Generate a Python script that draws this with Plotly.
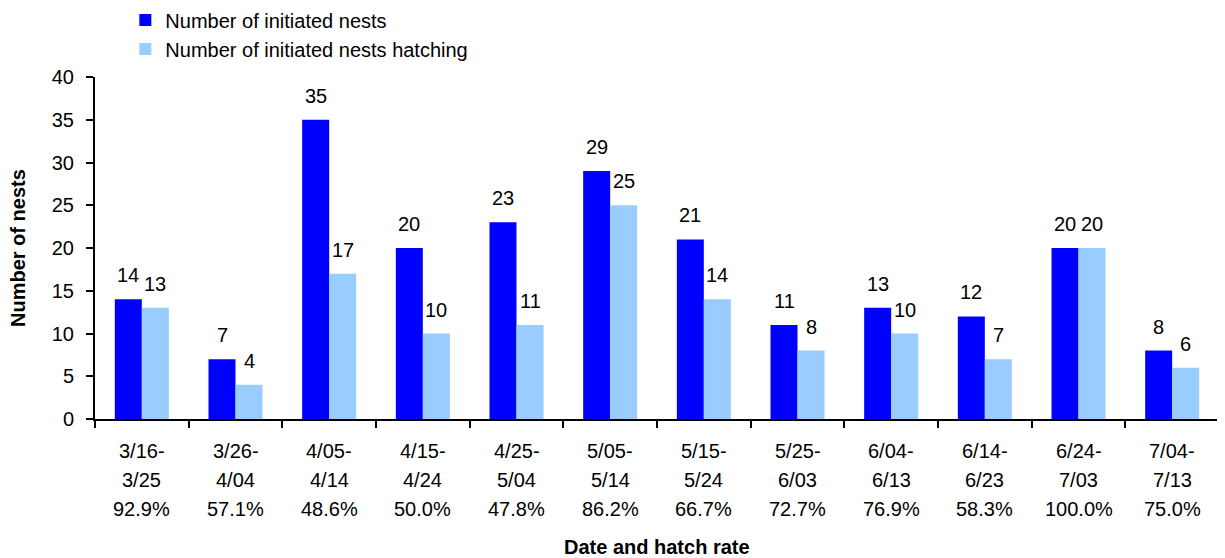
import plotly.graph_objects as go

periods = ["3/16-", "3/26-", "4/05-", "4/15-", "4/25-", "5/05-", "5/15-", "5/25-", "6/04-", "6/14-", "6/24-", "7/04-"]
period_ends = ["3/25", "4/04", "4/14", "4/24", "5/04", "5/14", "5/24", "6/03", "6/13", "6/23", "7/03", "7/13"]
hatch_rates = ["92.9%", "57.1%", "48.6%", "50.0%", "47.8%", "86.2%", "66.7%", "72.7%", "76.9%", "58.3%", "100.0%", "75.0%"]
initiated = [14, 7, 35, 20, 23, 29, 21, 11, 13, 12, 20, 8]
hatching = [13, 4, 17, 10, 11, 25, 14, 8, 10, 7, 20, 6]
y_ticks = [0, 5, 10, 15, 20, 25, 30, 35, 40]

cats = [f"{a}{b}" for a, b in zip(periods, period_ends)]
FONT = "Liberation Sans, Arial, sans-serif"
FS = 20
BLUE = "#0000FF"
LIGHT = "#99CCFF"

fig = go.Figure()
fig.add_trace(go.Bar(x=cats, y=initiated, name="Number of initiated nests",
                     legendgroup="a", marker=dict(color=BLUE, line=dict(width=0))))
fig.add_trace(go.Bar(x=cats, y=hatching, name="Number of initiated nests hatching",
                     legendgroup="b", marker=dict(color=LIGHT, line=dict(width=0))))

annotations = []
# value labels above bars
for vals, dx in ((initiated, -13.5), (hatching, 13.5)):
    for c, v in zip(cats, vals):
        annotations.append(dict(x=c, xref="x", y=v, yref="y", xshift=dx, yshift=24,
                                text=str(v), showarrow=False,
                                font=dict(size=FS, color="black", family=FONT),
                                xanchor="center", yanchor="middle"))
# category labels (three lines)
for c, a, b, r in zip(cats, periods, period_ends, hatch_rates):
    for i, t in enumerate([a, b, r]):
        annotations.append(dict(x=c, xref="x", y=0, yref="paper", yshift=-32 - 29 * i,
                                text=t, showarrow=False,
                                font=dict(size=FS, color="black", family=FONT),
                                xanchor="center", yanchor="middle"))
# axis titles
annotations.append(dict(x=0.5, xref="paper", y=0, yref="paper", yshift=-128,
                        text="<b>Date and hatch rate</b>", showarrow=False,
                        font=dict(size=FS, color="black", family=FONT),
                        xanchor="center", yanchor="middle"))
annotations.append(dict(x=0, xref="paper", y=0.5, yref="paper", xshift=-77,
                        text="<b>Number of nests</b>", showarrow=False, textangle=-90,
                        font=dict(size=FS, color="black", family=FONT),
                        xanchor="center", yanchor="middle"))

# the page body adds an 8px margin, so the figure is sized/offset to compensate
fig.update_layout(
    width=1217, height=550,
    margin=dict(l=87, r=6, t=69, b=139, autoexpand=False),
    paper_bgcolor="white", plot_bgcolor="white",
    barmode="group", bargap=0.4235, bargroupgap=0,
    font=dict(family=FONT, size=FS, color="black"),
    showlegend=True,
    legend=dict(x=0.027, y=1.224, xref="paper", yref="paper", xanchor="left", yanchor="top",
                font=dict(size=FS, family=FONT), itemwidth=30, tracegroupgap=10,
                traceorder="normal", bgcolor="rgba(0,0,0,0)"),
    annotations=annotations,
)
fig.update_xaxes(type="category", showticklabels=False, tickson="boundaries",
                 ticks="outside", ticklen=7, tickcolor="black", tickwidth=1.5,
                 showline=True, linecolor="black", linewidth=2, showgrid=False)
fig.update_yaxes(range=[0, 40], tickvals=y_ticks, ticks="outside", ticklen=7, tickcolor="black",
                 tickwidth=1.5, ticklabelstandoff=8,
                 showline=True, linecolor="black", linewidth=2, showgrid=False, zeroline=False,
                 tickfont=dict(size=FS, family=FONT))

fig.write_html("out.html")
